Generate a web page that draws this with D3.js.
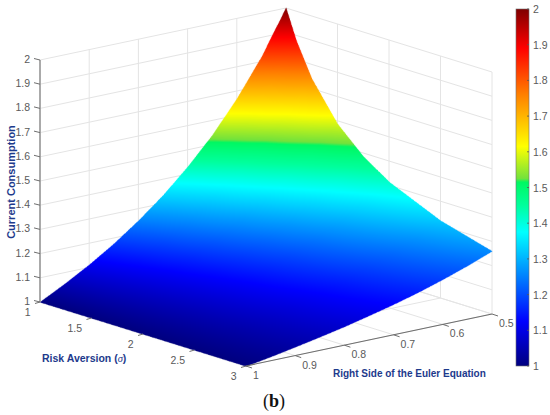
<!DOCTYPE html>
<html>
<head>
<meta charset="utf-8">
<script src="https://cdn.jsdelivr.net/npm/d3@7"></script>
<style>
  html, body { margin: 0; padding: 0; background: #fff; }
  svg { display: block; }
  text { font-family: "Liberation Sans", Arial, sans-serif; }
</style>
</head>
<body>
<svg id="chart"></svg>
<script>
// values
const sigmaGrid = [1, 1.1, 1.25, 1.5, 1.75, 2, 2.5, 3];
const rightSideGrid = [1, 0.95, 0.9, 0.85, 0.8, 0.75, 0.7, 0.65, 0.6, 0.55, 0.5];

// one row per sigma, one column per right side value
const consumption = [
    [1, 1.053, 1.111, 1.176, 1.25, 1.333, 1.429, 1.538, 1.667, 1.818, 2],
    [1, 1.048, 1.101, 1.159, 1.225, 1.299, 1.383, 1.479, 1.591, 1.722, 1.878],
    [1, 1.042, 1.088, 1.139, 1.195, 1.259, 1.33, 1.411, 1.505, 1.613, 1.741],
    [1, 1.035, 1.073, 1.114, 1.16, 1.211, 1.268, 1.333, 1.406, 1.49, 1.587],
    [1, 1.03, 1.062, 1.097, 1.136, 1.179, 1.226, 1.279, 1.339, 1.407, 1.486],
    [1, 1.026, 1.054, 1.085, 1.118, 1.155, 1.195, 1.24, 1.291, 1.348, 1.414],
    [1, 1.021, 1.043, 1.067, 1.093, 1.122, 1.153, 1.188, 1.227, 1.27, 1.32],
    [1, 1.017, 1.036, 1.056, 1.077, 1.101, 1.126, 1.154, 1.186, 1.221, 1.26]
];

const sigmaTicks = [1, 1.5, 2, 2.5, 3];
const rightSideTicks = [1, 0.9, 0.8, 0.7, 0.6, 0.5];
const zTicks = [1, 1.1, 1.2, 1.3, 1.4, 1.5, 1.6, 1.7, 1.8, 1.9, 2];

// colormap stops (jet with the step above 1.5 seen in the colorbar)
const colorStops = [1, 1.125, 1.25, 1.375, 1.45, 1.515, 1.525, 1.615, 1.76, 1.89, 2];
const colorValues = ["#00007f", "#0000ff", "#0080ff", "#00ffff", "#00ff9c", "#00f862", "#72e23c",
    "#ffff00", "#ff8000", "#ff0000", "#7f0000"];

const svgWidth = 550;
const svgHeight = 415;

const svg = d3.select("#chart")
    .attr("width", svgWidth)
    .attr("height", svgHeight);

const color = d3.scaleLinear().domain(colorStops).range(colorValues).clamp(true);

// oblique projection of the 3d box, origin is the left corner
const originX = 40;
const originY = 302;
const sigmaToX = d3.scaleLinear().domain([1, 3]).range([0, 206]);
const sigmaToY = d3.scaleLinear().domain([1, 3]).range([0, 64]);
const rightToX = d3.scaleLinear().domain([1, 0.5]).range([0, 246]);
const rightToY = d3.scaleLinear().domain([1, 0.5]).range([0, -52]);
const zToY = d3.scaleLinear().domain([1, 2]).range([0, -242]);

function project(sigma, right, z) {
    return [
        originX + sigmaToX(sigma) + rightToX(right),
        originY + sigmaToY(sigma) + rightToY(right) + zToY(z)
    ];
}

function segment(g, a, b, stroke, width) {
    g.append("line")
        .attr("x1", a[0]).attr("y1", a[1])
        .attr("x2", b[0]).attr("y2", b[1])
        .attr("stroke", stroke)
        .attr("stroke-width", width);
}

// ---- back walls and floor
const gridColor = "#e4e4e4";
const grid = svg.append("g");

zTicks.forEach(function (z) {
    segment(grid, project(1, 1, z), project(1, 0.5, z), gridColor, 1);
    segment(grid, project(1, 0.5, z), project(3, 0.5, z), gridColor, 1);
});
rightSideTicks.forEach(function (r) {
    segment(grid, project(1, r, 1), project(1, r, 2), gridColor, 1);
    segment(grid, project(1, r, 1), project(3, r, 1), gridColor, 1);
});
sigmaTicks.forEach(function (s) {
    segment(grid, project(s, 0.5, 1), project(s, 0.5, 2), gridColor, 1);
    segment(grid, project(s, 1, 1), project(s, 0.5, 1), gridColor, 1);
});

// ---- surface, shaded like "shading interp": every cell of the table is
// splatted into a 3x canvas, then scaled down so the edges come out smooth
const scaleUp = 3;
const steps = 220;
const big = document.createElement("canvas");
big.width = svgWidth * scaleUp;
big.height = svgHeight * scaleUp;
const bigCtx = big.getContext("2d");
const image = bigCtx.createImageData(big.width, big.height);

const lookupSize = 2048;
const lookup = d3.range(lookupSize).map(function (i) {
    return d3.rgb(color(1 + i / (lookupSize - 1)));
});

for (let i = 0; i < sigmaGrid.length - 1; i++) {
    for (let j = rightSideGrid.length - 2; j >= 0; j--) {
        const s0 = sigmaGrid[i], s1 = sigmaGrid[i + 1];
        const r0 = rightSideGrid[j], r1 = rightSideGrid[j + 1];
        for (let a = 0; a <= steps; a++) {
            const u = a / steps;
            const s = s0 + (s1 - s0) * u;
            for (let b = steps; b >= 0; b--) {
                const v = b / steps;
                const r = r0 + (r1 - r0) * v;
                const z = (1 - u) * (1 - v) * consumption[i][j] + u * (1 - v) * consumption[i + 1][j] +
                    (1 - u) * v * consumption[i][j + 1] + u * v * consumption[i + 1][j + 1];
                const p = project(s, r, z);
                const px = Math.round(p[0] * scaleUp);
                const py = Math.round(p[1] * scaleUp);
                const k = (py * big.width + px) * 4;
                const c = lookup[Math.round((z - 1) * (lookupSize - 1))];
                image.data[k] = c.r;
                image.data[k + 1] = c.g;
                image.data[k + 2] = c.b;
                image.data[k + 3] = 255;
            }
        }
    }
}
bigCtx.putImageData(image, 0, 0);

const small = document.createElement("canvas");
small.width = svgWidth;
small.height = svgHeight;
const smallCtx = small.getContext("2d");
smallCtx.imageSmoothingEnabled = true;
smallCtx.imageSmoothingQuality = "high";
smallCtx.drawImage(big, 0, 0, svgWidth, svgHeight);

svg.append("image")
    .attr("x", 0)
    .attr("y", 0)
    .attr("width", svgWidth)
    .attr("height", svgHeight)
    .attr("href", small.toDataURL("image/png"));

// ---- axes
const axisColor = "#6e6e6e";
const tickColor = "#5a5a5a";
const axes = svg.append("g");

function tickLabel(x, y, label, anchor) {
    axes.append("text")
        .attr("x", x)
        .attr("y", y)
        .attr("text-anchor", anchor)
        .attr("dominant-baseline", "central")
        .attr("font-size", 10.5)
        .attr("fill", tickColor)
        .text(label);
}

// z axis on the left corner
segment(axes, project(1, 1, 1), project(1, 1, 2), "#8c8c8c", 1.4);
zTicks.forEach(function (z) {
    const p = project(1, 1, z);
    segment(axes, p, [p[0] - 6, p[1] - 1.5], axisColor, 1);
    tickLabel(p[0] - 10, p[1] - 1, z, "end");
});

// sigma axis along the front left edge
sigmaTicks.forEach(function (s) {
    const p = project(s, 1, 1);
    segment(axes, p, [p[0] - 5, p[1] + 1.5], axisColor, 1);
    tickLabel(p[0] - 9.5, p[1] + 10, s, "end");
});

// right side axis along the front right edge
segment(axes, project(3, 1, 1), project(3, 0.5, 1), axisColor, 1.1);
rightSideTicks.forEach(function (r) {
    const p = project(3, r, 1);
    segment(axes, p, [p[0] + 6, p[1] + 2], axisColor, 1);
    tickLabel(p[0] + 7, p[1] + 9, r, "start");
});

// ---- axis titles
const titleColor = "#1d3a8c";

svg.append("text")
    .attr("transform", "translate(14.5,182) rotate(-90)")
    .attr("text-anchor", "middle")
    .attr("font-size", 11)
    .attr("font-weight", "bold")
    .attr("fill", titleColor)
    .text("Current Consumption");

const sigmaTitle = svg.append("text")
    .attr("x", 42)
    .attr("y", 362)
    .attr("font-size", 10.5)
    .attr("font-weight", "bold")
    .attr("fill", titleColor);
sigmaTitle.append("tspan").text("Risk Aversion (");
sigmaTitle.append("tspan")
    .style("font-family", "'Liberation Serif', serif")
    .attr("font-style", "italic")
    .attr("font-weight", "normal")
    .text("σ");
sigmaTitle.append("tspan").text(")");

svg.append("text")
    .attr("x", 333)
    .attr("y", 377)
    .attr("font-size", 10)
    .attr("font-weight", "bold")
    .attr("fill", titleColor)
    .text("Right Side of the Euler Equation");

// ---- colorbar
const barX = 516;
const barWidth = 13;
const barScale = d3.scaleLinear().domain([1, 2]).range([366, 9]);

const gradient = svg.append("defs").append("linearGradient")
    .attr("id", "jetBar")
    .attr("x1", 0).attr("x2", 0)
    .attr("y1", 1).attr("y2", 0);

gradient.selectAll("stop")
    .data(colorStops)
    .enter()
    .append("stop")
    .attr("offset", function (d) { return d - 1; })
    .attr("stop-color", function (d) { return color(d); });

svg.append("rect")
    .attr("x", barX)
    .attr("y", barScale(2))
    .attr("width", barWidth)
    .attr("height", barScale(1) - barScale(2))
    .attr("fill", "url(#jetBar)")
    .attr("stroke", "#6e6e6e")
    .attr("stroke-width", 0.6);

zTicks.forEach(function (z) {
    segment(svg, [barX + barWidth - 2, barScale(z)], [barX + barWidth, barScale(z)], "#555", 0.8);
    svg.append("text")
        .attr("x", 533)
        .attr("y", barScale(z))
        .attr("dominant-baseline", "central")
        .attr("font-size", 10.5)
        .attr("fill", tickColor)
        .text(z);
});

// ---- panel caption
svg.append("text")
    .attr("x", 274)
    .attr("y", 407)
    .attr("text-anchor", "middle")
    .attr("font-size", 18)
    .attr("fill", "#111")
    .style("font-family", "'Liberation Serif', serif")
    .html('(<tspan font-weight="bold">b</tspan>)');
</script>
</body>
</html>
